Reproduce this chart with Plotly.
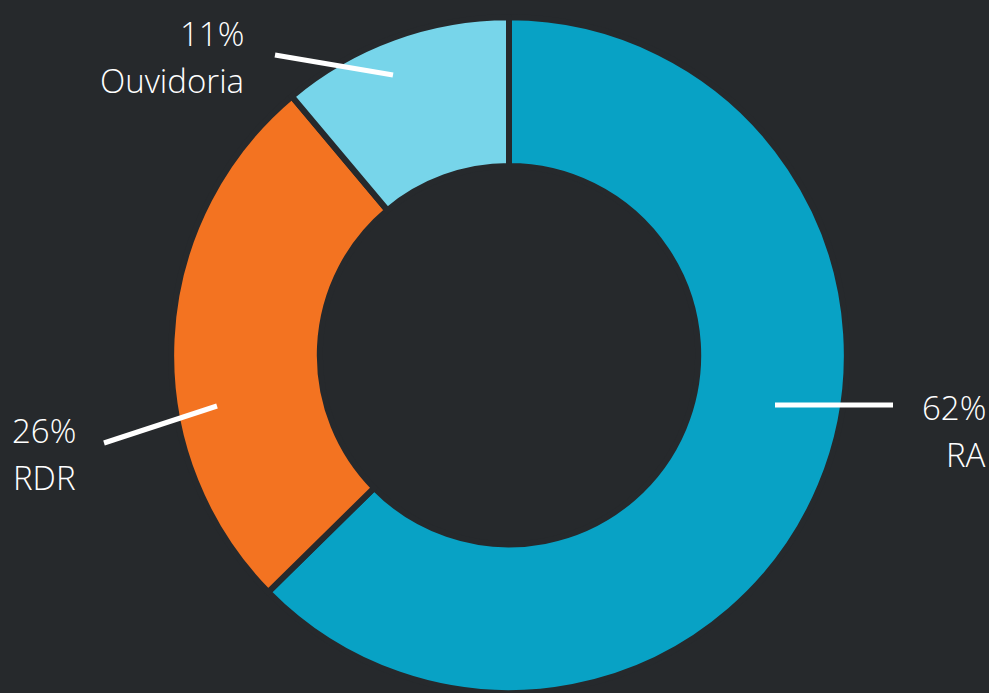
import plotly.graph_objects as go

# Data
categories = ["RA", "RDR", "Ouvidoria"]
percent_values = [62, 26, 11]
percent_labels = ["62%", "26%", "11%"]

# Styles
colors = ["#08A2C5", "#F37321", "#77D5EA"]
bg = "#26292C"
W, H = 989, 693
FONT = dict(family="Open Sans", size=33, color="#FFFFFF", weight=300)

# Label / leader-line layout (pixel positions, style only)
label_pos = {  # (x_right, y_pct_center, y_name_center)
    "RA": (988, 407, 454),
    "RDR": (78, 430, 477),
    "Ouvidoria": (246, 33, 80),
}
leader_lines = {
    "RA": ((775, 405), (893, 405)),
    "RDR": ((104, 443), (217, 406)),
    "Ouvidoria": ((275, 55), (393, 75)),
}

def px(x):
    return x / W

def py(y):
    return 1 - y / H

fig = go.Figure(go.Pie(
    labels=categories,
    values=percent_values,
    sort=False,
    direction="clockwise",
    rotation=0,
    hole=0.56,
    textinfo="none",
    hoverinfo="label+percent",
    marker=dict(colors=colors, line=dict(color=bg, width=6)),
    domain=dict(x=[(509 - 340) / W, (509 + 340) / W], y=[0, 0.975]),
    showlegend=False,
))

annotations = []
shapes = []
for cat, pct in zip(categories, percent_labels):
    xr, y1, y2 = label_pos[cat]
    annotations.append(dict(x=px(xr), y=py(y1), xref="paper", yref="paper",
                            text=pct, showarrow=False, xanchor="right", yanchor="middle",
                            font=FONT))
    annotations.append(dict(x=px(xr), y=py(y2), xref="paper", yref="paper",
                            text=cat, showarrow=False, xanchor="right", yanchor="middle",
                            font=FONT))
    (x0, y0), (x1, y1b) = leader_lines[cat]
    shapes.append(dict(type="line", xref="paper", yref="paper",
                       x0=px(x0), y0=py(y0), x1=px(x1), y1=py(y1b),
                       line=dict(color="#FFFFFF", width=5)))

fig.update_layout(
    width=W, height=H,
    margin=dict(l=0, r=0, t=0, b=0),
    paper_bgcolor=bg, plot_bgcolor=bg,
    annotations=annotations,
    shapes=shapes,
)

fig.write_html("out.html")
